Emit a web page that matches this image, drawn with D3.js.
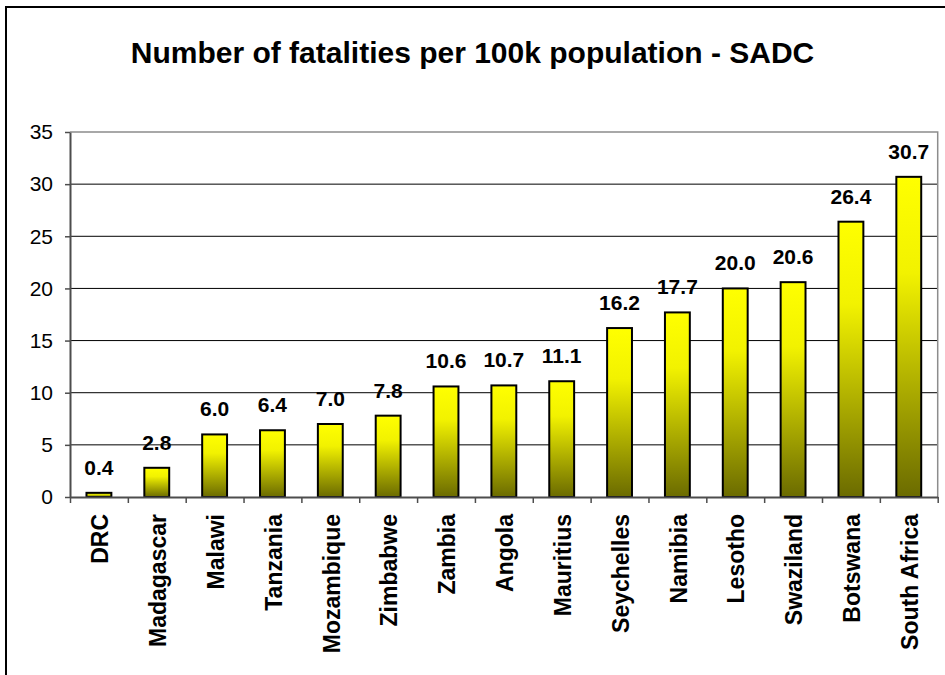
<!DOCTYPE html>
<html>
<head>
<meta charset="utf-8">
<script src="https://cdn.jsdelivr.net/npm/d3@7"></script>
<style>
  body { margin: 0; background: #fff; }
  svg { display: block; font-family: "Liberation Sans", Arial, sans-serif; }
</style>
</head>
<body>
<div id="chart"></div>
<script>
// Chart data
var countries = ["DRC", "Madagascar", "Malawi", "Tanzania", "Mozambique", "Zimbabwe", "Zambia",
    "Angola", "Mauritius", "Seychelles", "Namibia", "Lesotho", "Swaziland", "Botswana", "South Africa"];
var fatalities = [0.4, 2.8, 6.0, 6.4, 7.0, 7.8, 10.6, 10.7, 11.1, 16.2, 17.7, 20.0, 20.6, 26.4, 30.7];
var yTicks = [0, 5, 10, 15, 20, 25, 30, 35];
var chartTitle = "Number of fatalities per 100k population - SADC";

var width = 945, height = 675;
var plot = { left: 70, right: 937.7, top: 132, bottom: 497 };

var svg = d3.select("#chart").append("svg")
    .attr("width", width)
    .attr("height", height);

// gradient for the bars (yellow on top, dark olive at bottom)
var grad = svg.append("defs").append("linearGradient")
    .attr("id", "barFill")
    .attr("x1", 0).attr("y1", 0).attr("x2", 0).attr("y2", 1);
grad.append("stop").attr("offset", "0%").attr("stop-color", "#ffff00");
grad.append("stop").attr("offset", "30%").attr("stop-color", "#f2f200");
grad.append("stop").attr("offset", "100%").attr("stop-color", "#6b6b00");

// outer frame (only left and top are visible in the picture)
svg.append("path")
    .attr("d", "M6,675 L6,7 L945,7")
    .attr("fill", "none")
    .attr("stroke", "#000")
    .attr("stroke-width", 2);

// Scales
var x = d3.scaleBand()
    .domain(countries)
    .range([plot.left, plot.right])
    .paddingInner(0.57)
    .paddingOuter(0.285);

// boundaries between categories, used for the x tick marks
var xEdge = d3.scaleLinear()
    .domain([0, countries.length])
    .range([plot.left, plot.right]);

var y = d3.scaleLinear()
    .domain([0, 35])
    .range([plot.bottom, plot.top]);

// Title
svg.append("text")
    .attr("x", 472.5)
    .attr("y", 63)
    .attr("text-anchor", "middle")
    .attr("font-size", 30)
    .attr("font-weight", "bold")
    .attr("fill", "#000")
    .text(chartTitle);

// gridlines
svg.append("g")
    .selectAll("line")
    .data(yTicks.filter(d => d > 0 && d < 35))
    .join("line")
    .attr("x1", plot.left).attr("x2", plot.right)
    .attr("y1", d => y(d)).attr("y2", d => y(d))
    .attr("stroke", "#000")
    .attr("stroke-width", 1);

// plot area border (top and right, gray)
svg.append("path")
    .attr("d", `M${plot.left},${y(35)} L${plot.right},${y(35)} L${plot.right},${plot.bottom}`)
    .attr("fill", "none")
    .attr("stroke", "#8c8c8c")
    .attr("stroke-width", 1.5);

// Bars
svg.append("g")
    .selectAll("rect")
    .data(fatalities)
    .join("rect")
    .attr("x", (d, i) => x(countries[i]))
    .attr("y", d => y(d))
    .attr("width", x.bandwidth())
    .attr("height", d => plot.bottom - y(d))
    .attr("fill", "url(#barFill)")
    .attr("stroke", "#000")
    .attr("stroke-width", 2);

// Value labels on top of each bar
svg.append("g")
    .selectAll("text")
    .data(fatalities)
    .join("text")
    .attr("x", (d, i) => x(countries[i]) + x.bandwidth() / 2)
    .attr("y", d => y(d) - 18)
    .attr("text-anchor", "middle")
    .attr("font-size", 21)
    .attr("font-weight", "bold")
    .attr("fill", "#000")
    .text(d => d.toFixed(1));

// Y axis
var yAxis = svg.append("g")
    .attr("transform", `translate(${plot.left},0)`)
    .call(d3.axisLeft(y).tickValues(yTicks).tickSize(5).tickSizeOuter(0).tickPadding(12));
yAxis.select(".domain").attr("stroke", "#4d4d4d").attr("stroke-width", 2);
yAxis.selectAll(".tick line").attr("stroke", "#4d4d4d").attr("stroke-width", 1.5);
yAxis.selectAll("text")
    .attr("font-size", 21)
    .attr("font-family", "Liberation Sans, Arial, sans-serif")
    .attr("fill", "#000");

// X axis (tick marks between categories)
var xAxis = svg.append("g")
    .attr("transform", `translate(0,${plot.bottom})`)
    .call(d3.axisBottom(xEdge).tickValues(d3.range(countries.length + 1)).tickSize(6).tickSizeOuter(0).tickFormat(""));
xAxis.select(".domain").attr("stroke", "#4d4d4d").attr("stroke-width", 2);
xAxis.selectAll(".tick line").attr("stroke", "#4d4d4d").attr("stroke-width", 1.5);

// Category labels, rotated
svg.append("g")
    .selectAll("text")
    .data(countries)
    .join("text")
    .attr("transform", d => `translate(${x(d) + x.bandwidth() / 2},514) rotate(-90)`)
    .attr("dy", "0.4em")
    .attr("text-anchor", "end")
    .attr("font-size", 23)
    .attr("font-weight", "bold")
    .attr("fill", "#000")
    .text(d => d);
</script>
</body>
</html>
